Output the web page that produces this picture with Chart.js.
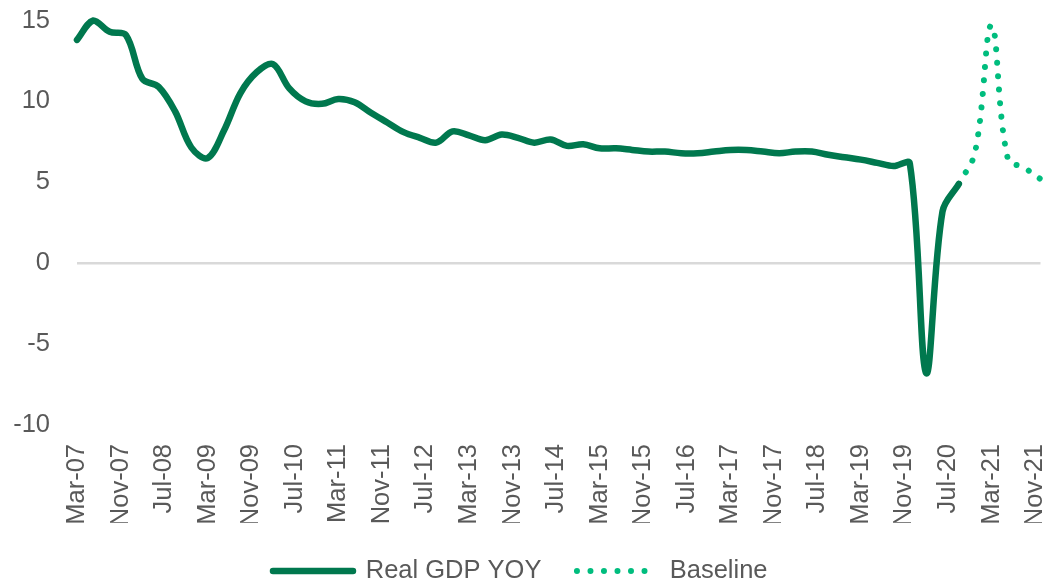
<!DOCTYPE html>
<html lang="en">
<head>
    <meta charset="UTF-8">
    <title>Real GDP YOY</title>
    <script src="https://cdn.jsdelivr.net/npm/chart.js"></script>
    <style>
        body {
            margin: 0;
            padding: 0;
            background-color: #fff;
        }

        #chart-container {
            width: 1048px;
            height: 582px;
        }
    </style>
</head>
<body>
    <div id="chart-container">
        <canvas id="gdpChart"></canvas>
    </div>

    <script>
        // quarterly data, first point Mar-07; x is counted in months from Mar-07
        const monthNames = ['Jan', 'Feb', 'Mar', 'Apr', 'May', 'Jun', 'Jul', 'Aug', 'Sep', 'Oct', 'Nov', 'Dec'];
        const startMonth = 2;   // March
        const startYear = 2007;
        const totalMonths = 177; // Mar-07 .. Dec-21
        const labelStep = 8;     // a tick label every 8 months

        // Real GDP YOY, Mar-07 .. Sep-20
        const gdpValues = [
            13.8, 15.0, 14.3, 14.1,
            11.4, 10.9, 9.4, 7.15,
            6.5, 8.2, 10.5, 11.8,
            12.3, 10.8, 10.0, 9.85,
            10.15, 9.95, 9.3, 8.7,
            8.1, 7.75, 7.45, 8.15,
            7.9, 7.6, 7.95, 7.75,
            7.45, 7.65, 7.25, 7.35,
            7.1, 7.1, 7.0, 6.9,
            6.9, 6.8, 6.8, 6.9,
            7.0, 7.0, 6.9, 6.8,
            6.9, 6.9, 6.7, 6.55,
            6.4, 6.2, 6.0, 6.15,
            -6.8, 3.2, 4.9
        ];

        // Baseline, Sep-20 .. Dec-21
        const baselineStart = 54; // quarter index of Sep-20
        const baselineValues = [4.9, 6.9, 14.7, 6.45, 5.9, 5.2];

        const yTicks = [-10, -5, 0, 5, 10, 15];

        function monthLabel(i) {
            const m = startMonth + i;
            const yr = (startYear + Math.floor(m / 12)) % 100;
            return monthNames[m % 12] + '-' + String(yr).padStart(2, '0');
        }

        const gdpPoints = gdpValues.map((v, q) => ({ x: q * 3, y: v }));
        const basePoints = baselineValues.map((v, k) => ({ x: (baselineStart + k) * 3, y: v }));

        const textColor = '#595959';
        const font = { family: "'Liberation Sans', Arial, sans-serif", size: 25.5 };

        const data = {
            datasets: [{
                label: 'Real GDP YOY',
                data: gdpPoints,
                borderColor: '#00784e',
                backgroundColor: '#00784e',
                borderWidth: 6.5,
                borderCapStyle: 'round',
                borderJoinStyle: 'round',
                pointRadius: 0,
                tension: 0.35,
                clip: false
            }, {
                label: 'Baseline',
                data: basePoints,
                borderColor: '#00bd7e',
                backgroundColor: '#00bd7e',
                borderWidth: 6,
                borderCapStyle: 'round',
                borderDash: [0.01, 13.5],
                pointRadius: 0,
                tension: 0.4,
                clip: false
            }]
        };

        // legend samples: copy the dash and cap of each line
        function legendLabels(chart) {
            const items = Chart.defaults.plugins.legend.labels.generateLabels(chart);
            items.forEach(item => {
                const ds = chart.data.datasets[item.datasetIndex];
                item.lineDash = ds.borderDash || [];
                item.lineCap = ds.borderCapStyle;
                item.lineWidth = ds.borderWidth;
                item.strokeStyle = ds.borderColor;
            });
            return items;
        }

        const config = {
            type: 'line',
            data: data,
            options: {
                responsive: true,
                maintainAspectRatio: false,
                animation: false,
                layout: {
                    padding: { left: 0, right: 7.5, top: 20.5, bottom: -11.75 }
                },
                plugins: {
                    tooltip: { enabled: false },
                    legend: {
                        display: true,
                        position: 'bottom',
                        labels: {
                            usePointStyle: true,
                            pointStyle: 'line',
                            pointStyleWidth: 80,
                            padding: 35.5,
                            color: textColor,
                            font: font,
                            generateLabels: legendLabels
                        }
                    }
                },
                scales: {
                    x: {
                        type: 'linear',
                        min: 0,
                        max: totalMonths,
                        grid: { display: false, drawTicks: false },
                        border: { display: false },
                        afterBuildTicks: (scale) => {
                            const ticks = [];
                            for (let i = 0; i <= totalMonths; i += labelStep) ticks.push({ value: i });
                            scale.ticks = ticks;
                        },
                        afterFit: (scale) => {
                            scale.paddingLeft = 0;
                            scale.paddingRight = 0;
                            scale.height = 97.75;
                        },
                        ticks: {
                            autoSkip: false,
                            minRotation: 90,
                            maxRotation: 90,
                            padding: 19,
                            color: textColor,
                            font: font,
                            callback: (value) => monthLabel(value)
                        }
                    },
                    y: {
                        min: -10,
                        max: 15,
                        afterBuildTicks: (scale) => {
                            scale.ticks = yTicks.map(v => ({ value: v }));
                        },
                        afterFit: (scale) => {
                            scale.width = 77;
                            scale.paddingTop = 0;
                            scale.paddingBottom = 0;
                        },
                        grid: {
                            drawTicks: false,
                            lineWidth: 2.5,
                            color: (ctx) => ctx.tick && ctx.tick.value === 0 ? '#d9d9d9' : 'rgba(0,0,0,0)'
                        },
                        border: { display: false },
                        ticks: {
                            padding: 27,
                            color: textColor,
                            font: font
                        }
                    }
                }
            }
        };

        const gdpChart = new Chart(document.getElementById('gdpChart'), config);
    </script>
</body>
</html>
